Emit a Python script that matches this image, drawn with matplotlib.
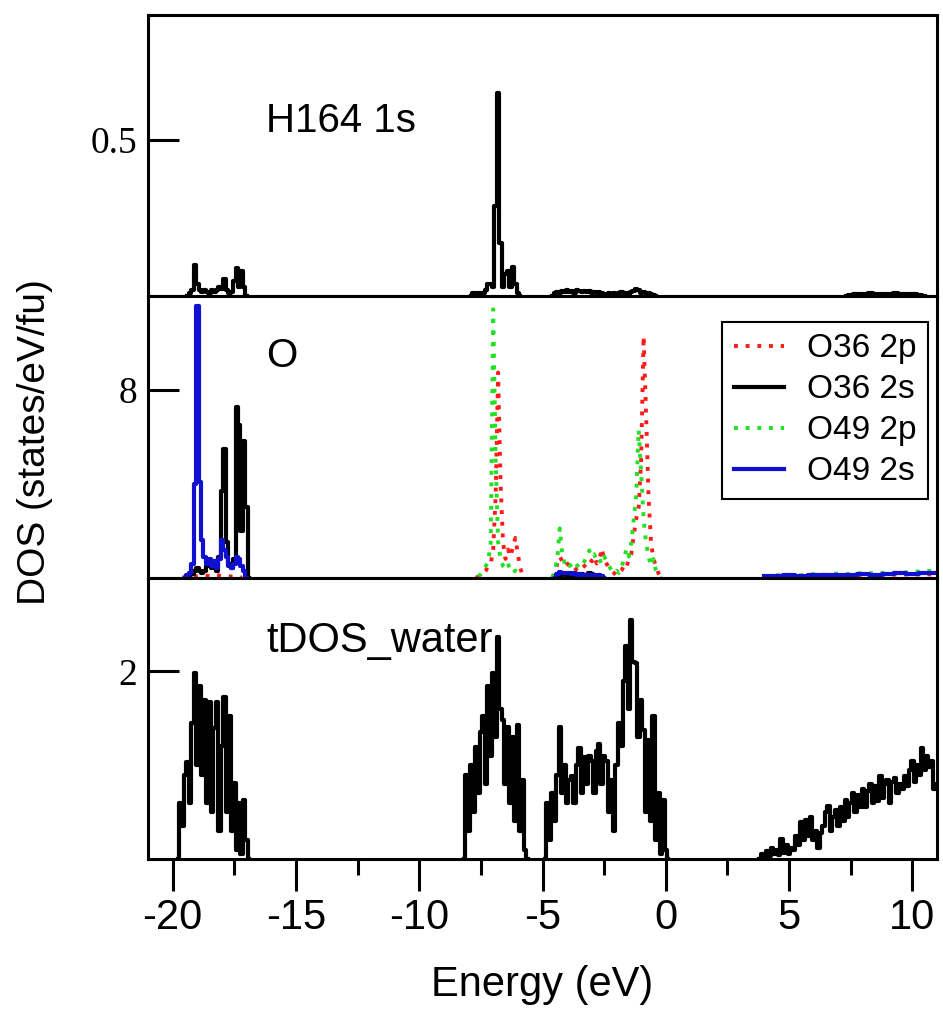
import matplotlib
matplotlib.use("Agg")
import matplotlib.pyplot as plt
import numpy as np

plt.rcParams['font.family'] = ['Liberation Sans', 'DejaVu Sans']
plt.rcParams['axes.unicode_minus'] = False

# ---- H164 1s (top panel), step 0.1 eV unless noted ----
h_a_start, h_a = -19.4, [0.0, 0.01, 0.02, 0.10, 0.04, 0.02, 0.015, 0.02, 0.015, 0.01, 0.02, 0.015, 0.02,
                         0.03, 0.025, 0.055, 0.02, 0.01, 0.015, 0.05, 0.09, 0.03, 0.08, 0.03, 0.0]
h_b_start, h_b = -7.9, [0.0, 0.01, 0.005, 0.01, 0.01, 0.01, 0.02, 0.04, 0.04, 0.03, 0.29, 0.65, 0.17, 0.03,
                        0.07, 0.08, 0.03, 0.095, 0.04, 0.01, 0.0]
h_c_start, h_c = -4.6, [0.0, 0.01, 0.015, 0.012, 0.018, 0.015, 0.02, 0.015, 0.018, 0.012, 0.02, 0.016, 0.015,
                        0.018, 0.014, 0.016, 0.012, 0.015, 0.01, 0.014, 0.012, 0.008, 0.005, 0.01, 0.008,
                        0.012, 0.006, 0.01, 0.015, 0.012, 0.01, 0.008, 0.015, 0.018, 0.025, 0.02, 0.012,
                        0.015, 0.01, 0.012, 0.008, 0.005, 0.0]
h_d_start, h_d = 7.3, [0.0, 0.005, 0.008, 0.006, 0.008, 0.01, 0.007, 0.009, 0.006, 0.008, 0.01, 0.008,
                       0.006, 0.008, 0.007, 0.005, 0.0]  # step 0.2

# ---- O partial DOS (middle panel) ----
o36p_a_start, o36p_a = -19.6, [0.0, 0.05, 0.08, 0.06, 0.1, 0.08, 0.06, 0.1, 0.08, 0.06, 0.05, 0.08, 0.0]  # step 0.2
o36p_b_start, o36p_b = -7.7, [0.0, 0.05, 0.1, 0.2, 0.3, 0.5, 0.6, 1.2, 3.5, 8.75, 4.0, 1.5, 0.8, 1.2, 0.9,
                              1.3, 1.7, 1.0, 0.4, 0.1, 0.0]
o36p_c_start, o36p_c = -4.6, [0, 0.2, 0.6, 0.9, 0.7, 0.8, 0.6, 0.5, 0.4, 0.3, 0.4, 0.5, 0.4, 0.5, 0.6, 0.8,
                              0.7, 0.9, 0.6, 0.7, 1.25, 0.8, 0.6, 0.4, 0.3, 0.2, 0.1, 0.2, 0.3, 0.5, 0.4,
                              0.8, 1.0, 1.8, 2.5, 3.0, 5.0, 10.3, 7.0, 3.5, 1.5, 0.8, 0.5, 0.2, 0.0]
o36p_d_start, o36p_d = 4.0, [0.05, 0.08, 0.1, 0.06, 0.1, 0.08, 0.12, 0.1, 0.08, 0.12, 0.1, 0.15, 0.12,
                             0.15, 0.12]  # step 0.5

o36s_a_start, o36s_a = -19.5, [0.0, 0.05, 0.1, 0.15, 0.3, 0.4, 0.3, 0.2, 0.3, 0.5, 0.7, 0.4, 0.6, 0.3, 0.9,
                               3.7, 5.5, 1.5, 0.6, 0.4, 0.8, 7.3, 6.5, 2.0, 5.85, 3.0, 0.0]
o36s_b_start, o36s_b = -4.5, [0.0, 0.08, 0.12, 0.1, 0.15, 0.1, 0.12, 0.08, 0.1, 0.12, 0.08, 0.15, 0.1, 0.12,
                              0.2, 0.15, 0.1, 0.08, 0.1, 0.05, 0.0]

o49p_b_start, o49p_b = -7.6, [0.05, 0.15, 0.3, 0.5, 0.7, 1.5, 11.45, 5.0, 1.5, 0.8, 0.5, 0.4, 0.6, 0.3, 0.2,
                              0.3, 0.1, 0.0]
o49p_c_start, o49p_c = -4.6, [0, 0.3, 0.8, 2.1, 1.0, 0.6, 0.7, 0.5, 0.6, 0.4, 0.5, 0.6, 0.5, 0.7, 0.9, 1.16,
                              0.9, 1.0, 0.7, 0.8, 0.6, 0.9, 0.7, 0.5, 0.3, 0.2, 0.3, 0.2, 0.4, 0.8, 1.2, 0.9,
                              1.5, 2.5, 3.5, 6.3, 4.5, 2.5, 1.5, 0.9, 0.5, 0.8, 0.3, 0.1, 0.0]
o49p_d_start, o49p_d = 4.0, [0.05, 0.1, 0.12, 0.1, 0.15, 0.12, 0.18, 0.15, 0.2, 0.18, 0.22, 0.2, 0.25,
                             0.28, 0.3]  # step 0.5

o49s_a_start, o49s_a = -19.5, [0.0, 0.1, 0.2, 0.6, 4.0, 11.6, 4.1, 1.6, 0.9, 0.6, 0.8, 0.5, 0.7, 0.4, 0.8,
                               1.6, 1.2, 0.9, 0.5, 0.4, 0.6, 0.9, 0.8, 0.5, 0.3, 0.0]
o49s_b_start, o49s_b = -4.5, [0.0, 0.15, 0.25, 0.2, 0.22, 0.18, 0.2, 0.15, 0.18, 0.12, 0.15, 0.1, 0.12, 0.1,
                              0.08, 0.1, 0.12, 0.08, 0.1, 0.05, 0.0]
o49s_d_start, o49s_d = 4.0, [0.05, 0.08, 0.1, 0.08, 0.1, 0.12, 0.1, 0.12, 0.15, 0.12, 0.15, 0.18, 0.15,
                             0.2, 0.18]  # step 0.5

# ---- tDOS_water (bottom panel) ----
t_a_start, t_a = -19.8, [0.0, 0.6, 0.35, 0.9, 1.03, 0.6, 1.45, 1.98, 1.0, 1.85, 0.9, 1.7, 0.6, 1.67, 0.5,
                         1.4, 1.67, 0.3, 1.2, 1.73, 0.5, 1.52, 0.3, 0.81, 0.1, 0.6, 0.05, 0.63, 0.2, 0.0]
t_b_start, t_b = -8.2, [0.0, 0.9, 0.3, 1.0, 0.5, 1.19, 0.7, 1.35, 1.53, 0.8, 1.84, 1.1, 1.98, 1.3, 2.37, 1.6,
                        1.48, 0.8, 1.41, 0.6, 1.3, 0.4, 1.43, 0.3, 0.84, 0.1, 0.0]
t_c_start, t_c = -4.9, [0.0, 0.6, 0.2, 0.7, 0.4, 0.9, 1.41, 0.7, 1.0, 0.6, 0.84, 0.88, 0.6, 1.0, 1.18, 0.7,
                        1.09, 0.8, 1.1, 1.05, 0.7, 1.15, 1.23, 0.8, 1.1, 1.05, 0.5, 0.84, 0.3, 1.0, 1.45,
                        1.2, 1.9, 2.27, 1.6, 2.55, 2.1, 2.09, 1.3, 1.7, 1.38, 0.5, 1.27, 0.4, 1.52, 0.2,
                        0.7, 0.05, 0.63, 0.1, 0.0]
t_d_start, t_d = 3.8, [0.0, 0.05, 0.02, 0.08, 0.03, 0.12, 0.05, 0.1, 0.04, 0.21, 0.06, 0.15, 0.05, 0.12,
                       0.1, 0.25, 0.15, 0.39, 0.2, 0.42, 0.25, 0.45, 0.2, 0.3, 0.12, 0.28, 0.35, 0.5, 0.57,
                       0.3, 0.45, 0.52, 0.35, 0.55, 0.4, 0.63, 0.45, 0.6, 0.7, 0.5, 0.68, 0.55, 0.75, 0.55,
                       0.72, 0.8, 0.6, 0.78, 0.62, 0.89, 0.65, 0.8, 0.84, 0.6, 0.82, 0.86, 0.7, 0.8, 0.75,
                       0.89, 0.78, 0.95, 1.05, 0.82, 1.0, 0.9, 1.18, 0.95, 1.1, 0.98, 1.05, 0.75, 0.8]


def energies(start, vals, step=0.1):
    return start + step * np.arange(len(vals))


RED, GREEN, BLUE = '#ff1a1a', '#22e022', '#1010d0'
SOLID = dict(lw=3.0, drawstyle='steps-mid')
DOT = dict(lw=2.8, ls=(0, (1, 2.0)))

fig = plt.figure(figsize=(9.43, 10.13), dpi=100)
W, H = 943, 1013
left, right, top, bottom = 148, 937, 15, 859
ph = (bottom - top) / 3
axes = []
for i in range(3):
    y0 = top + (i + 1) * ph
    axes.append(fig.add_axes([left / W, 1 - y0 / H, (right - left) / W, ph / H]))
ax1, ax2, ax3 = axes

# top panel
for s, v, st in [(h_a_start, h_a, 0.1), (h_b_start, h_b, 0.1), (h_c_start, h_c, 0.1), (h_d_start, h_d, 0.2)]:
    ax1.plot(energies(s, v, st), v, color='black', **SOLID)
ax1.set_ylim(0, 0.9)
ax1.set_yticks([0.5])
ax1.set_yticklabels(['0.5'])
ax1.text(-16.2, 0.526, 'H164 1s', fontsize=29, va='baseline')

# middle panel
first = True
for s, v, st in [(o36p_a_start, o36p_a, 0.2), (o36p_b_start, o36p_b, 0.1), (o36p_c_start, o36p_c, 0.1),
                 (o36p_d_start, o36p_d, 0.5)]:
    ax2.plot(energies(s, v, st), v, color=RED, label='O36 2p' if first else None, **DOT)
    first = False
first = True
for s, v in [(o36s_a_start, o36s_a), (o36s_b_start, o36s_b)]:
    ax2.plot(energies(s, v), v, color='black', label='O36 2s' if first else None, **SOLID)
    first = False
first = True
for s, v, st in [(o49p_b_start, o49p_b, 0.1), (o49p_c_start, o49p_c, 0.1), (o49p_d_start, o49p_d, 0.5)]:
    ax2.plot(energies(s, v, st), v, color=GREEN, label='O49 2p' if first else None, **DOT)
    first = False
first = True
for s, v, st in [(o49s_a_start, o49s_a, 0.1), (o49s_b_start, o49s_b, 0.1), (o49s_d_start, o49s_d, 0.5)]:
    ax2.plot(energies(s, v, st), v, color=BLUE, label='O49 2s' if first else None, **SOLID)
    first = False
ax2.set_ylim(0, 12)
ax2.set_yticks([8])
ax2.text(-16.2, 8.98, 'O', fontsize=29, va='baseline')
leg = ax2.legend(loc='upper right', bbox_to_anchor=(0.989, 0.91), borderaxespad=0, fontsize=24,
                 frameon=True, fancybox=False, edgecolor='black', framealpha=1, handlelength=1.5,
                 handletextpad=0.7, labelspacing=0.3, borderpad=0.35)
leg.get_frame().set_linewidth(1.5)

# bottom panel
for s, v in [(t_a_start, t_a), (t_b_start, t_b), (t_c_start, t_c), (t_d_start, t_d)]:
    ax3.plot(energies(s, v), v, color='black', **SOLID)
ax3.set_ylim(0, 3)
ax3.set_yticks([2])
ax3.text(-16.2, 2.21, 'tDOS_water', fontsize=30, va='baseline')

for ax in axes:
    ax.set_xlim(-21, 11)
    for sp in ax.spines.values():
        sp.set_linewidth(2.2)
    ax.tick_params(axis='y', direction='in', length=22, width=2.2, pad=8, right=False)
    for lab in ax.get_yticklabels():
        lab.set_family('Liberation Serif')
        lab.set_fontsize(27)
    ax.set_xticks(np.arange(-20, 11, 5))
    ax.set_xticks(np.arange(-17.5, 11, 5), minor=True)
    ax.tick_params(axis='x', which='both', bottom=False, top=False, labelbottom=False)

ax3.tick_params(axis='x', which='major', bottom=True, labelbottom=True, direction='out', length=23,
                width=2.2, labelsize=30, pad=5)
ax3.tick_params(axis='x', which='minor', bottom=True, direction='out', length=11.5, width=2.2)

fig.text(542 / W, 1 - 985 / H, 'Energy (eV)', fontsize=30, ha='center', va='center')
fig.text(35 / W, 1 - 442 / H, 'DOS (states/eV/fu)', fontsize=28, ha='center', va='center', rotation=90)

fig.savefig('out.png', dpi=100)
